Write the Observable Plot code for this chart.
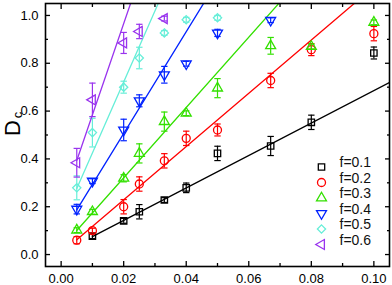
<!DOCTYPE html>
<html>
<head>
<meta charset="utf-8">
<script src="https://cdn.jsdelivr.net/npm/d3@7"></script>
<script src="https://cdn.jsdelivr.net/npm/@observablehq/plot@0.6"></script>
<style>
  html, body { margin: 0; padding: 0; background: #fff; }
</style>
</head>
<body>
<div id="chart"></div>
<script>
// ---- data ----
const xValues = [0.005, 0.01, 0.02, 0.025, 0.033, 0.04, 0.05, 0.067, 0.08, 0.1];

const seriesLabels = ["f=0.1", "f=0.2", "f=0.3", "f=0.4", "f=0.5", "f=0.6"];
const seriesColors = ["#000000", "#ff0000", "#33e000", "#0022ff", "#66eed8", "#9933ee"];

const yF01 = [null, 0.077, 0.141, 0.179, 0.228, 0.279, 0.423, 0.454, 0.553, 0.843];
const eF01 = [null, 0.01, 0.01, 0.03, 0.01, 0.02, 0.03, 0.04, 0.03, 0.025];
const yF02 = [0.06, 0.10, 0.20, 0.295, 0.392, 0.486, 0.521, 0.728, 0.857, 0.924];
const eF02 = [0.015, 0.01, 0.03, 0.03, 0.03, 0.03, 0.025, 0.03, 0.025, 0.03];
const yF03 = [0.102, 0.179, 0.319, 0.423, 0.556, 0.591, 0.696, 0.873, 0.87, 0.971];
const eF03 = [0.01, 0.01, 0.015, 0.04, 0.04, 0.01, 0.04, 0.035, 0.01, 0.01];
const yF04 = [0.19, 0.307, 0.521, 0.643, 0.752, 0.798, 0.927, 0.98, null, null];
const eF04 = [0.02, 0.01, 0.045, 0.025, 0.035, 0.01, 0.015, 0.01, null, null];
const yF05 = [0.279, 0.51, 0.70, 0.822, 0.927, 0.982, 0.99, null, null, null];
const eF05 = [0.05, 0.06, 0.025, 0.045, 0.01, 0.01, 0.01, null, null, null];
const yF06 = [0.384, 0.647, 0.885, 0.933, 0.987, null, null, null, null, null];
const eF06 = [0.06, 0.07, 0.044, 0.03, 0.01, null, null, null, null, null];

// linear fits
const fitStart = [0.01, 0.005, 0.005, 0.005, 0.005, 0.005];
const fitIntercept = [0.007, 0.006, 0.027, 0.08, 0.128, 0.202];
const fitSlope = [6.79, 11.14, 14.7, 21.3, 29.7, 38.2];

const xMajorTicks = [0, 0.02, 0.04, 0.06, 0.08, 0.10];
const xMinorTicks = [0.01, 0.03, 0.05, 0.07, 0.09];
const yMajorTicks = [0, 0.2, 0.4, 0.6, 0.8, 1.0];
const yMinorTicks = [0.1, 0.3, 0.5, 0.7, 0.9];

// ---- build tables ----
const allY = [yF01, yF02, yF03, yF04, yF05, yF06];
const allE = [eF01, eF02, eF03, eF04, eF05, eF06];
const symbols = ["square", "circle", "triangle", "triangle", "diamond2", "triangle"];
const rotations = [0, 0, 0, 180, 0, -90];
const radii = [3.6, 4, 3.7, 3.7, 3.7, 3.7];

const capSymbol = {
  draw(context, size) {
    const w = Math.sqrt(size / Math.PI);
    context.moveTo(-w, 0);
    context.lineTo(w, 0);
  }
};

const xMax = 0.105;
const marks = [];

allY.forEach((ys, s) => {
  const rows = [];
  ys.forEach((y, i) => {
    if (y != null) rows.push({x: xValues[i], y, e: allE[s][i]});
  });
  const color = seriesColors[s];
  const line = [
    {x: fitStart[s], y: fitIntercept[s] + fitSlope[s] * fitStart[s]},
    {x: xMax, y: fitIntercept[s] + fitSlope[s] * xMax}
  ];
  marks.push(Plot.line(line, {x: "x", y: "y", stroke: color, strokeWidth: 1.3, clip: true}));
  marks.push(Plot.ruleX(rows, {x: "x", y1: d => d.y - d.e, y2: d => d.y + d.e, stroke: color, strokeWidth: 1.2, clip: true}));
  marks.push(Plot.dot(rows, {x: "x", y: d => d.y - d.e, symbol: capSymbol, r: 3.2, stroke: color, strokeWidth: 1.2, clip: true}));
  marks.push(Plot.dot(rows, {x: "x", y: d => d.y + d.e, symbol: capSymbol, r: 3.2, stroke: color, strokeWidth: 1.2, clip: true}));
  marks.push(Plot.dot(rows, {x: "x", y: "y", symbol: symbols[s], rotate: rotations[s], r: radii[s], stroke: color, fill: "none", strokeWidth: 1.3, clip: true}));
  // legend entry
  marks.push(Plot.dot([seriesLabels[s]], {frameAnchor: "bottom-right", dx: -68, dy: -99.5 + 15.5 * s, symbol: symbols[s], rotate: rotations[s], r: radii[s], stroke: color, fill: "none", strokeWidth: 1.3}));
  marks.push(Plot.text([seriesLabels[s]], {frameAnchor: "bottom-right", dx: -50, dy: -99.5 + 15.5 * s, text: d => d, textAnchor: "start", fontSize: 14, fill: "#111"}));
});

const noLabel = () => "";
const chart = Plot.plot({
  width: 392,
  height: 285,
  marginLeft: 45,
  marginRight: 3,
  marginTop: 3,
  marginBottom: 19,
  style: {fontFamily: "'Liberation Sans', Arial, sans-serif", fontSize: "13px", color: "#000", background: "#fff"},
  x: {domain: [-0.005, 0.105]},
  y: {domain: [-0.05, 1.05]},
  marks: [
    ...marks,
    Plot.axisX(xMajorTicks, {anchor: "bottom", tickSize: 0, tickPadding: 7, tickFormat: d3.format(".2f"), fontSize: 13, label: null}),
    Plot.axisY(yMajorTicks, {anchor: "left", tickSize: 0, tickPadding: 7, tickFormat: d3.format(".1f"), fontSize: 13, label: null}),
    Plot.axisX(xMajorTicks, {anchor: "bottom", tickSize: -5, tickFormat: noLabel, label: null, strokeWidth: 1.3}),
    Plot.axisX(xMinorTicks, {anchor: "bottom", tickSize: -3, tickFormat: noLabel, label: null, strokeWidth: 1.3}),
    Plot.axisX(xMajorTicks, {anchor: "top", tickSize: -5, tickFormat: noLabel, label: null, strokeWidth: 1.3}),
    Plot.axisX(xMinorTicks, {anchor: "top", tickSize: -3, tickFormat: noLabel, label: null, strokeWidth: 1.3}),
    Plot.axisY(yMajorTicks, {anchor: "left", tickSize: -5, tickFormat: noLabel, label: null, strokeWidth: 1.3}),
    Plot.axisY(yMinorTicks, {anchor: "left", tickSize: -3, tickFormat: noLabel, label: null, strokeWidth: 1.3}),
    Plot.axisY(yMajorTicks, {anchor: "right", tickSize: -5, tickFormat: noLabel, label: null, strokeWidth: 1.3}),
    Plot.axisY(yMinorTicks, {anchor: "right", tickSize: -3, tickFormat: noLabel, label: null, strokeWidth: 1.3}),
    Plot.frame({stroke: "#000", strokeWidth: 1.6}),
    // y-axis title D_c (rotated)
    Plot.text(["D"], {frameAnchor: "left", dx: -32.5, dy: -7, rotate: -90, text: d => d, fontSize: 22, textAnchor: "middle", lineAnchor: "middle", fill: "#000"}),
    Plot.text(["c"], {frameAnchor: "left", dx: -28, dy: -20, rotate: -90, text: d => d, fontSize: 13, textAnchor: "middle", lineAnchor: "middle", fill: "#000"})
  ]
});
document.getElementById("chart").appendChild(chart);
</script>
</body>
</html>
